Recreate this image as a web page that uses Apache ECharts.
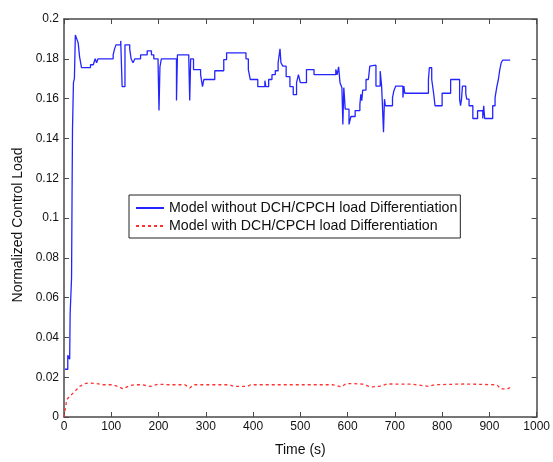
<!DOCTYPE html>
<html>
<head>
<meta charset="utf-8">
<script src="https://cdn.jsdelivr.net/npm/echarts@6/dist/echarts.min.js"></script>
<style>html,body{margin:0;padding:0;background:#fff}#c{width:553px;height:462px}</style>
</head>
<body>
<div id="c"></div>
<script>
var seriesNames = ['Model without DCH/CPCH load Differentiation', 'Model with DCH/CPCH load Differentiation'];
var timeBlue = [2,8,12,13,16,17,18,20,22,24,27,30,33,37,56,62,66,69,72,104,107,110,120,123,129,139,142,146,150,162,176,185,190,199,201,203,206,238,240,264,266,268,274,289,293,296,319,338,344,385,390,394,410,425,427,433,440,447,453,457,459,463,470,478,485,492,496,500,513,529,575,578,581,584,588,590,592,595,603,607,616,626,628,630,632,639,644,647,649,660,669,672,676,678,680,695,698,702,717,719,721,771,773,778,782,785,800,818,837,839,841,843,850,852,857,865,875,886,888,890,907,912,916,919,922,925,928,944];
var loadBlue = [0.024,0.031,0.029,0.052,0.07,0.11,0.145,0.168,0.17,0.192,0.19,0.188,0.181,0.1756,0.177,0.178,0.18,0.178,0.18,0.182,0.185,0.187,0.189,0.166,0.187,0.185,0.18,0.178,0.18,0.182,0.184,0.182,0.18,0.178,0.154,0.176,0.18,0.159,0.182,0.18,0.159,0.18,0.1746,0.172,0.166,0.1696,0.174,0.1796,0.183,0.18,0.1746,0.1696,0.166,0.169,0.166,0.1696,0.172,0.174,0.178,0.185,0.178,0.1763,0.171,0.166,0.162,0.168,0.172,0.168,0.1746,0.172,0.1746,0.172,0.176,0.168,0.1655,0.147,0.1655,0.1547,0.147,0.151,0.154,0.157,0.1622,0.159,0.1643,0.1696,0.1705,0.1763,0.1768,0.1663,0.1738,0.1663,0.1431,0.1597,0.1564,0.1605,0.164,0.1663,0.1605,0.1663,0.1627,0.1696,0.1755,0.1696,0.1627,0.1564,0.1627,0.1696,0.1597,0.1564,0.1597,0.1663,0.1627,0.1597,0.1564,0.15,0.1539,0.15,0.1564,0.15,0.1564,0.1605,0.1663,0.1696,0.1746,0.178,0.1793,0.1793];
var timeRed = [0,3,6,12,23,33,44,51,68,82,103,117,125,138,148,165,183,200,221,256,266,274,350,360,388,395,430,569,587,597,614,632,649,667,684,736,771,785,848,910,917,924,938,946];
var loadRed = [0,0.0046,0.0088,0.0104,0.0129,0.0154,0.0168,0.0171,0.0168,0.0162,0.0162,0.0151,0.0141,0.0157,0.0162,0.0162,0.0154,0.0165,0.0162,0.0162,0.0146,0.0162,0.0162,0.0154,0.0154,0.0162,0.0162,0.0162,0.0151,0.0168,0.0168,0.0165,0.0151,0.0154,0.0166,0.0165,0.0154,0.0162,0.0166,0.0162,0.0159,0.0141,0.0141,0.0151];

function pairs(t, v) { return t.map(function (x, i) { return [x, v[i]]; }); }

var axisColor = '#4a4a4a';
var sans = 'Liberation Sans, Arial, sans-serif';
var labelStyle = { color: '#111', fontFamily: 'Liberation Sans Narrow, Arial Narrow, ' + sans, fontSize: 12 };
function plain(v) { return String(+v.toFixed(4)); }

var axisCommon = {
  axisLine: { show: true, onZero: false, lineStyle: { color: axisColor, width: 1.5 } },
  axisTick: { show: true, inside: true, length: 5, lineStyle: { color: axisColor } },
  splitLine: { show: false }
};

var chart = echarts.init(document.getElementById('c'));
chart.setOption({
  animation: false,
  backgroundColor: '#fff',
  grid: { left: 64, right: 10, top: 19, bottom: 41 },
  legend: {
    orient: 'vertical',
    left: 129, top: 195,
    backgroundColor: '#fff',
    borderColor: '#222', borderWidth: 1, borderRadius: 0,
    padding: [6, 3, 5, 6],
    itemGap: 4,
    itemWidth: 28, itemHeight: 14,
    itemStyle: { opacity: 0 },
    textStyle: { color: '#111', fontFamily: sans, fontSize: 14.2 },
    data: seriesNames
  },
  xAxis: [Object.assign({
    type: 'value', min: 0, max: 1000, interval: 100,
    name: 'Time (s)', nameLocation: 'middle', nameGap: 26,
    nameTextStyle: { color: '#111', fontFamily: sans, fontSize: 14 },
    axisLabel: Object.assign({ margin: 4, formatter: plain }, labelStyle)
  }, axisCommon), Object.assign({
    type: 'value', min: 0, max: 1000, interval: 100, position: 'top',
    axisLabel: { show: false }
  }, axisCommon)],
  yAxis: [Object.assign({
    type: 'value', min: 0, max: 0.2, interval: 0.02,
    name: 'Normalized Control Load', nameLocation: 'middle', nameGap: 38, nameRotate: 90,
    nameTextStyle: { color: '#111', fontFamily: sans, fontSize: 14, padding: [0, 14, 0, 0] },
    axisLabel: Object.assign({ margin: 5, formatter: plain }, labelStyle)
  }, axisCommon), Object.assign({
    type: 'value', min: 0, max: 0.2, interval: 0.02, position: 'right',
    axisLabel: { show: false }
  }, axisCommon)],
  series: [{
    name: seriesNames[0], type: 'line', step: 'end',
    data: pairs(timeBlue, loadBlue),
    showSymbol: false, symbol: 'none',
    color: '#2424ff',
    lineStyle: { color: '#2424ff', width: 1.3 }
  }, {
    name: seriesNames[1], type: 'line',
    data: pairs(timeRed, loadRed),
    showSymbol: false, symbol: 'none',
    color: '#ff3030',
    lineStyle: { color: '#ff3030', width: 1.3, type: [3, 3] }
  }]
});
</script>
</body>
</html>
